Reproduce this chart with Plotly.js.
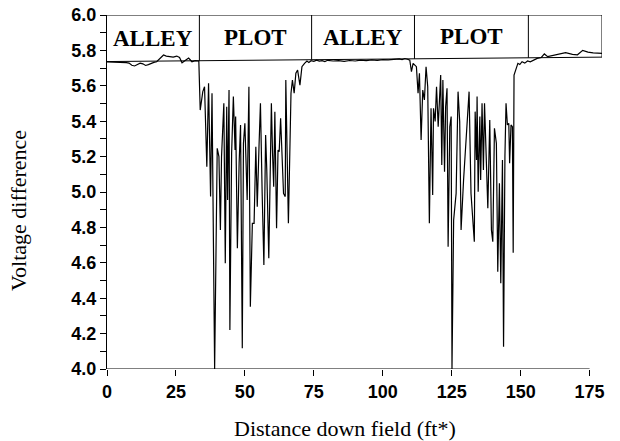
<!DOCTYPE html>
<html>
<head>
<meta charset="utf-8">
<script src="https://cdn.plot.ly/plotly-3.0.1.min.js"></script>
<style>html,body{margin:0;padding:0;background:#fff;}#chart{width:620px;height:441px;}</style>
</head>
<body>
<div id="chart"></div>
<script>
// ---- data ----
const alley1X = [0,1,2,3,4,5,6,7,8,9,10,11,12,13,14,15,16,17,18,19,20.5,21.5,22.9,24,25.3,26.3,27.2,28.4,29.6,30.8,32,33.3];
const alley1V = [5.735,5.735,5.734,5.733,5.733,5.732,5.732,5.731,5.728,5.716,5.712,5.718,5.728,5.724,5.715,5.72,5.728,5.732,5.736,5.75,5.774,5.768,5.765,5.762,5.768,5.76,5.73,5.745,5.757,5.736,5.742,5.74];
const plot1X = [33.8,34.74,35.37,36.2,36.83,37.56,38.08,39.03,39.97,40.59,41.12,41.53,42.37,42.89,43.41,43.73,44.25,44.56,45.19,45.82,46.44,46.65,47.28,47.91,48.43,49.06,49.48,50.0,50.52,50.83,51.46,51.98,52.71,53.34,53.97,54.49,55.12,55.64,56.27,56.89,57.52,57.94,58.67,59.19,59.61,60.03,60.45,60.87,61.49,62.02,62.44,62.96,63.59,64.01,64.63,64.84,65.78,66.72,67.24,67.87,68.49,69.12,69.96,70.69,71.63];
const plot1V = [5.463,5.567,5.595,5.143,5.614,4.974,5.558,4.0,5.247,5.2,4.785,5.2,5.501,4.597,5.482,4.955,5.576,4.22,5.219,5.539,5.237,5.426,4.682,5.162,5.379,4.117,5.275,5.388,4.992,4.955,5.595,4.352,4.823,4.823,5.256,4.917,5.256,5.501,4.992,4.588,5.322,5.124,4.626,5.181,5.501,5.219,5.03,5.454,4.795,5.237,5.228,5.416,5.2,4.992,4.974,5.633,4.823,5.558,5.633,5.558,5.671,5.689,5.604,5.708,5.727];
const alley2X = [72,72.5,73.2,74,75,76,77,78,79,80,82,84,86,88,90,92,94,96,98,100,102,104,106,107,108,109,109.8];
const alley2V = [5.735,5.74,5.732,5.742,5.738,5.745,5.74,5.742,5.737,5.744,5.74,5.742,5.738,5.743,5.74,5.745,5.742,5.746,5.744,5.748,5.746,5.75,5.752,5.748,5.754,5.75,5.745];
const plot2X = [110.4,111.0,112.2,112.8,113.3,113.9,114.5,115.1,115.7,116.3,116.9,117.5,118.1,118.4,119.0,119.5,120.1,120.4,121.0,121.4,121.8,122.4,122.8,123.3,123.7,124.3,124.8,125.1,125.7,126.6,127.3,127.9,128.4,129.3,130.2,131.3,132.0,132.5,133.2,133.5,134.0,134.2,134.6,135.2,135.5,136.0,136.5,136.9,137.5,138.1,138.8,139.4,139.9,140.5,141.2,141.7,142.3,142.8,143.4,143.8,144.3,144.7,145.2,145.7,146.0,146.5,147.0,147.3,147.6,148.2,149.0];
const plot2V = [5.68,5.727,5.708,5.558,5.671,5.294,5.576,5.52,5.708,5.595,4.823,5.473,4.983,5.473,5.398,5.595,5.369,5.482,5.661,5.152,5.633,5.115,5.482,5.586,4.691,5.369,5.426,4.0,4.842,4.992,5.567,5.398,4.785,5.068,5.275,5.567,4.992,4.879,4.719,5.454,5.181,5.539,5.001,5.426,5.068,5.501,5.124,5.501,5.2,4.908,5.407,4.785,4.719,5.36,5.275,4.55,5.049,4.484,5.181,4.126,5.2,5.501,5.379,5.388,5.162,5.379,5.369,4.657,5.661,5.689,5.727];
const alley3X = [149.7,150.5,151.5,152.5,153.5,154.5,156,157.5,158.6,159.8,161.5,163.8,166.3,168.8,170.6,172.5,174.4,176.3,178,179.5];
const alley3V = [5.72,5.736,5.728,5.74,5.735,5.745,5.755,5.76,5.78,5.765,5.77,5.778,5.787,5.778,5.775,5.8,5.79,5.786,5.784,5.783];

const baselineX = [0, 179.5];
const baselineV = [5.737, 5.762];
const zoneDividers = [33.5, 74.2, 111.5, 152.8];
const zoneLabels = ["ALLEY", "PLOT", "ALLEY", "PLOT"];
const xTicks = [0, 25, 50, 75, 100, 125, 150, 175];
const xTitle = 'Distance down field (ft*)';
const yTitle = 'Voltage difference';

// ---- build ----
const distance = [].concat(alley1X, plot1X, alley2X, plot2X, alley3X);
const voltage = [].concat(alley1V, plot1V, alley2V, plot2V, alley3V);

const xMax = baselineX[1];
function baseAt(x) {
  return baselineV[0] + (baselineV[1] - baselineV[0]) * (x - baselineX[0]) / (baselineX[1] - baselineX[0]);
}

const traces = [
  {x: distance, y: voltage, type: 'scatter', mode: 'lines', line: {color: '#000', width: 1.2}, hoverinfo: 'skip'},
  {x: baselineX, y: baselineV, type: 'scatter', mode: 'lines', line: {color: '#000', width: 1}, hoverinfo: 'skip'}
];

const shapes = [];
const lineStyle = {color: '#000', width: 1};
shapes.push({type: 'line', xref: 'x', yref: 'y', x0: 0, x1: xMax, y0: 6, y1: 6, line: lineStyle});
shapes.push({type: 'line', xref: 'x', yref: 'y', x0: xMax, x1: xMax, y0: baseAt(xMax), y1: 6, line: lineStyle});
shapes.push({type: 'line', xref: 'x', yref: 'y', x0: 0, x1: 175, y0: 4, y1: 4, line: lineStyle});
zoneDividers.forEach(d => {
  shapes.push({type: 'line', xref: 'x', yref: 'y', x0: d, x1: d, y0: baseAt(d), y1: 6, line: lineStyle});
});

const bounds = [0].concat(zoneDividers);
const annotations = zoneLabels.map((t, i) => ({
  x: (bounds[i] + bounds[i + 1]) / 2, y: (6 + baseAt((bounds[i] + bounds[i + 1]) / 2)) / 2,
  xref: 'x', yref: 'y', text: t, showarrow: false,
  font: {family: 'Liberation Serif, Times New Roman, serif', size: 23, color: '#000', weight: 'bold'}
}));
const titleFont = {family: 'Liberation Serif, Times New Roman, serif', size: 22, color: '#000'};
annotations.push({xref: 'paper', yref: 'paper', x: 0.481, y: -0.167, xanchor: 'center', yanchor: 'middle',
  text: xTitle, showarrow: false, font: titleFont});
annotations.push({xref: 'paper', yref: 'paper', x: -0.18, y: 0.449, xanchor: 'center', yanchor: 'middle',
  text: yTitle, textangle: -90, showarrow: false, font: titleFont});

const layout = {
  width: 620, height: 441,
  margin: {l: 107, r: 18, t: 15, b: 72},
  paper_bgcolor: '#fff', plot_bgcolor: '#fff',
  showlegend: false,
  xaxis: {
    range: [0, xMax], tickvals: xTicks, ticktext: xTicks.map(String),
    ticks: 'outside', ticklen: 6, tickcolor: '#000', tickwidth: 1,
    showline: false, showgrid: false, zeroline: false,
    tickfont: {family: 'Liberation Sans, Arial, sans-serif', size: 18, color: '#000', weight: 'bold'}
  },
  yaxis: {
    range: [4, 6], dtick: 0.2, tick0: 4, tickformat: '.1f',
    ticks: 'outside', ticklen: 6, tickcolor: '#000', tickwidth: 1,
    minor: {dtick: 0.1, ticks: 'outside', ticklen: 6, tickcolor: '#000', showgrid: false},
    showline: true, linecolor: '#000', linewidth: 1, mirror: false,
    showgrid: false, zeroline: false,
    tickfont: {family: 'Liberation Sans, Arial, sans-serif', size: 18, color: '#000', weight: 'bold'}
  },
  shapes: shapes,
  annotations: annotations
};

Plotly.newPlot('chart', traces, layout, {displayModeBar: false, staticPlot: true});
</script>
</body>
</html>
